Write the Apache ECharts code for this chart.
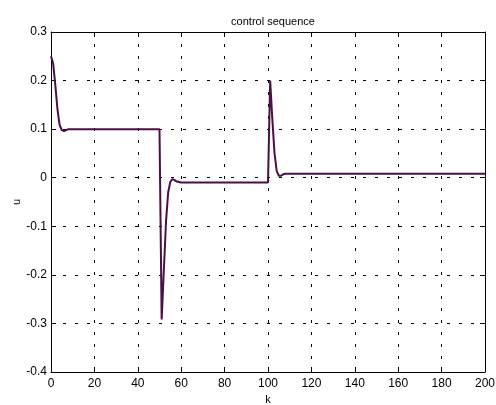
<!DOCTYPE html>
<html>
<head>
<meta charset="utf-8">
<script src="https://cdn.jsdelivr.net/npm/echarts@6/dist/echarts.min.js"></script>
<style>html,body{margin:0;padding:0;background:#fff;}#c{width:496px;height:405px;}</style>
</head>
<body>
<div id="c"></div>
<script>
// Sample instants k and control values u
const kValues = [0, 1, 2, 3, 4, 5, 6, 7, 8, 9, 50, 51, 52, 53, 54, 55, 56, 57, 58, 60, 100, 101, 102, 103, 104, 105, 106, 107, 108, 200];
const uValues = [0.25, 0.235, 0.19, 0.14, 0.108, 0.098, 0.096, 0.098, 0.1, 0.1, 0.1, -0.292, -0.19, -0.09, -0.03, -0.008, -0.003, -0.005, -0.008, -0.01, -0.01, 0.2, 0.12, 0.05, 0.014, 0.004, 0.004, 0.007, 0.008, 0.008];
const xTicks = [0, 20, 40, 60, 80, 100, 120, 140, 160, 180, 200];
const yTicks = [-0.4, -0.3, -0.2, -0.1, 0, 0.1, 0.2, 0.3];
const titleText = 'control sequence';
const xName = 'k';
const yName = 'u';

const font = 'Arial, "Liberation Sans", sans-serif';
const series = kValues.map((k, i) => [k, uValues[i]]);
const chart = echarts.init(document.getElementById('c'));
const fmtY = v => {
  const r = Math.round(v * 10) / 10;
  return r === 0 ? '0' : String(r);
};
const gridDash = {show: true, lineStyle: {color: '#000', type: [3, 9], width: 1}};
chart.setOption({
  animation: false,
  backgroundColor: '#fff',
  title: {text: titleText, left: 268, top: 11, textAlign: 'center',
    textStyle: {fontFamily: font, fontSize: 11, fontWeight: 'normal', color: '#000'}},
  grid: {left: 51, right: 11, top: 32, bottom: 33, containLabel: false, outerBoundsMode: 'none'},
  graphic: [{
    type: 'text', x: 17, y: 202, rotation: Math.PI / 2,
    style: {text: yName, fontFamily: font, fontSize: 11, fill: '#000', align: 'center', verticalAlign: 'middle'}
  }],
  xAxis: [{
    type: 'value', min: xTicks[0], max: xTicks[xTicks.length - 1], interval: 20,
    name: xName, nameLocation: 'middle', nameGap: 22,
    nameTextStyle: {fontFamily: font, fontSize: 11, color: '#000'},
    axisLine: {onZero: false, lineStyle: {color: '#000', width: 1}},
    axisTick: {inside: true, length: 5, lineStyle: {color: '#000'}},
    axisLabel: {fontFamily: font, fontSize: 12, color: '#000', margin: 6},
    splitLine: gridDash
  }, {
    type: 'value', position: 'top', min: 0, max: 200, interval: 20,
    axisLine: {onZero: false, lineStyle: {color: '#000', width: 1}},
    axisTick: {inside: true, length: 5, lineStyle: {color: '#000'}},
    axisLabel: {show: false}, splitLine: {show: false}
  }],
  yAxis: [{
    type: 'value', min: yTicks[0], max: yTicks[yTicks.length - 1], interval: 0.1,
    axisLine: {show: true, onZero: false, lineStyle: {color: '#000', width: 1}},
    axisTick: {show: true, inside: true, length: 5, lineStyle: {color: '#000'}},
    axisLabel: {fontFamily: font, fontSize: 12, color: '#000', margin: 4, formatter: fmtY},
    splitLine: gridDash
  }, {
    type: 'value', position: 'right', min: -0.4, max: 0.3, interval: 0.1,
    axisLine: {show: true, onZero: false, lineStyle: {color: '#000', width: 1}},
    axisTick: {show: true, inside: true, length: 5, lineStyle: {color: '#000'}},
    axisLabel: {show: false}, splitLine: {show: false}
  }],
  series: [{
    type: 'line', data: series, showSymbol: false, symbol: 'none',
    lineStyle: {color: '#4a0f45', width: 2}, z: 5
  }]
});
</script>
</body>
</html>
